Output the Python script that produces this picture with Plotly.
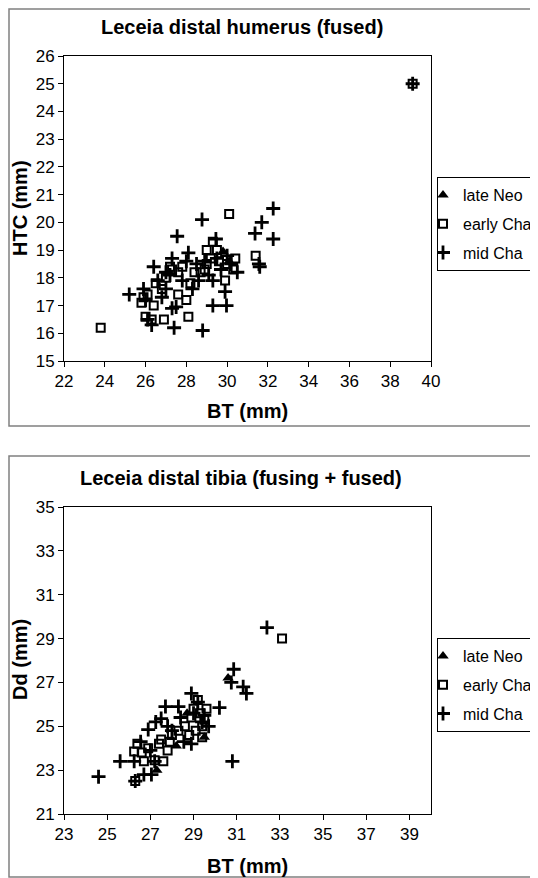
import plotly.graph_objects as go

# page body has an 8px margin, so the figure is drawn 8px in from the window's corner
OFF = 8
W, H = 538 - OFF, 878 - OFF

# ---------- Humerus data (BT, HTC) ----------
hum_late_bt = [29.8, 30.1]
hum_late_htc = [18.95, 18.6]

hum_early_bt = [23.8, 25.8, 25.9, 26.0, 26.3, 26.9, 26.1, 26.5, 26.8, 27.0, 27.3, 27.6, 27.8, 27.6,
                28.0, 28.1, 28.2, 28.4, 28.7, 29.0, 29.0, 29.3, 29.5, 29.6, 29.9, 30.0, 30.3, 30.1,
                31.4, 39.1, 26.4, 27.2, 29.2, 30.4, 28.9]
hum_early_htc = [16.2, 17.1, 17.3, 16.6, 16.5, 16.5, 17.4, 17.8, 17.6, 18.0, 18.3, 18.2, 18.4, 17.4,
                 17.2, 16.6, 17.8, 18.2, 18.2, 18.5, 19.0, 19.3, 19.0, 18.6, 17.9, 18.5, 18.3, 20.3,
                 18.8, 25.0, 17.0, 18.4, 18.7, 18.7, 18.3]

hum_mid_bt = [25.2, 25.9, 26.1, 26.3, 26.4, 26.6, 26.8, 27.0, 27.2, 27.3, 27.4, 27.5, 27.3, 27.55,
              27.8, 28.0, 28.1, 28.3, 28.6, 28.8, 28.77, 28.9, 29.1, 29.3, 29.3, 29.45, 29.7, 29.9,
              29.97, 30.0, 30.2, 30.5, 31.37, 31.56, 31.7, 31.6, 32.26, 32.26, 39.1, 26.0, 27.0,
              28.5, 29.5]
hum_mid_htc = [17.4, 17.6, 16.5, 16.3, 18.4, 17.9, 17.3, 17.6, 18.1, 16.9, 16.2, 16.95, 18.7, 19.5,
               17.9, 18.6, 18.9, 17.6, 17.9, 16.1, 20.1, 18.6, 18.1, 17.9, 17.0, 19.4, 18.3, 17.5,
               17.0, 18.8, 18.5, 18.2, 19.6, 18.5, 20.0, 18.4, 20.5, 19.4, 25.0, 17.2, 18.2,
               18.5, 18.7]

# ---------- Tibia data (BT, Dd) ----------
tib_late_bt = [27.3, 28.2, 28.7, 29.5, 30.6]
tib_late_dd = [23.0, 24.1, 25.6, 24.5, 27.2]

tib_early_bt = [26.3, 26.25, 26.6, 26.7, 27.2, 27.6, 26.4, 26.9, 27.4, 27.8, 27.5, 28.0, 28.3, 28.6,
                28.9, 29.0, 29.2, 29.3, 29.4, 29.5, 29.1, 28.8, 29.6, 29.4, 33.1, 27.9]
tib_early_dd = [22.5, 23.85, 23.8, 23.4, 23.45, 23.4, 24.2, 24.0, 24.2, 23.9, 24.4, 24.6, 24.8, 25.0,
                25.4, 25.8, 26.2, 25.6, 25.0, 25.3, 24.8, 24.6, 25.8, 24.5, 29.0, 24.3]

tib_mid_bt = [24.6, 25.6, 26.25, 26.3, 26.7, 27.05, 27.2, 26.55, 26.9, 27.25, 27.5, 27.7, 27.8, 28.3,
              28.55, 28.9, 28.9, 29.2, 29.4, 29.5, 29.7, 30.2, 30.8, 30.86, 30.75, 31.3, 31.45, 32.4,
              28.0, 29.0, 27.0, 28.4]
tib_mid_dd = [22.7, 23.4, 23.4, 22.5, 22.8, 22.8, 23.4, 24.3, 24.85, 25.2, 25.35, 25.9, 25.0, 25.9,
              24.3, 24.2, 26.5, 26.1, 25.2, 25.5, 25.0, 25.85, 23.4, 27.6, 27.0, 26.8, 26.5, 29.5,
              24.8, 25.6, 23.9, 25.4]

series_names = ["late Neo", "early Cha", "mid Cha"]
hum_x_ticks = list(range(22, 41, 2))
hum_y_ticks = list(range(15, 27, 1))
tib_x_ticks = list(range(23, 40, 2))
tib_y_ticks = list(range(21, 36, 2))

FONT = "Liberation Sans, Arial, Helvetica, sans-serif"


def px_x(p):
    return (p - OFF) / W


def px_y(p):
    return 1 - (p - OFF) / H


marker_styles = [
    dict(symbol="triangle-up", size=10, color="black", line=dict(width=0)),
    dict(symbol="square-open", size=8, color="black", line=dict(width=2, color="black")),
    dict(symbol="cross-thin", size=10, color="black", line=dict(width=2.8, color="black")),
]

fig = go.Figure()

hum = [(hum_late_bt, hum_late_htc), (hum_early_bt, hum_early_htc), (hum_mid_bt, hum_mid_htc)]
tib = [(tib_late_bt, tib_late_dd), (tib_early_bt, tib_early_dd), (tib_mid_bt, tib_mid_dd)]

for i, (xs, ys) in enumerate(hum):
    fig.add_trace(go.Scatter(x=xs, y=ys, mode="markers", name=series_names[i],
                             marker=marker_styles[i], xaxis="x", yaxis="y", legend="legend",
                             legendgroup="h%d" % i))
for i, (xs, ys) in enumerate(tib):
    fig.add_trace(go.Scatter(x=xs, y=ys, mode="markers", name=series_names[i],
                             marker=marker_styles[i], xaxis="x2", yaxis="y2", legend="legend2",
                             legendgroup="t%d" % i))

axis_common = dict(showgrid=False, zeroline=False, showline=True, linecolor="black", linewidth=1,
                   mirror=True, ticks="outside", ticklen=5, tickcolor="black", tickwidth=1,
                   tickfont=dict(size=17, color="black", family=FONT))

legend_common = dict(xanchor="left", yanchor="top", bordercolor="black", borderwidth=1,
                     bgcolor="white", font=dict(size=16, family=FONT, color="black"),
                     itemwidth=30, tracegroupgap=5, indentation=-15)

fig.update_layout(
    width=W, height=H,
    margin=dict(l=0, r=0, t=0, b=0, autoexpand=False),
    paper_bgcolor="white", plot_bgcolor="white",
    font=dict(family=FONT, color="black"),
    xaxis=dict(domain=[px_x(64), px_x(431)], range=[22, 40], tickvals=hum_x_ticks,
               anchor="y", **axis_common),
    yaxis=dict(domain=[px_y(361), px_y(56)], range=[15, 26], tickvals=hum_y_ticks,
               anchor="x", **axis_common),
    xaxis2=dict(domain=[px_x(64), px_x(431)], range=[23, 40], tickvals=tib_x_ticks,
                anchor="y2", **axis_common),
    yaxis2=dict(domain=[px_y(814), px_y(507)], range=[21, 35], tickvals=tib_y_ticks,
                anchor="x2", **axis_common),
    legend=dict(x=px_x(437), y=px_y(177), **legend_common),
    legend2=dict(x=px_x(437), y=px_y(638), **legend_common),
    shapes=[
        dict(type="rect", xref="paper", yref="paper", x0=px_x(9), x1=px_x(545),
             y0=px_y(426), y1=px_y(9), line=dict(color="#808080", width=1.5)),
        dict(type="rect", xref="paper", yref="paper", x0=px_x(9), x1=px_x(545),
             y0=px_y(877), y1=px_y(456), line=dict(color="#808080", width=1.5)),
    ],
    annotations=[
        dict(text="<b>Leceia distal humerus (fused)</b>", x=px_x(242), y=px_y(27), xref="paper", yref="paper",
             showarrow=False, font=dict(size=20), xanchor="center", yanchor="middle"),
        dict(text="<b>Leceia distal tibia (fusing + fused)</b>", x=px_x(241), y=px_y(478), xref="paper", yref="paper",
             showarrow=False, font=dict(size=20), xanchor="center", yanchor="middle"),
        dict(text="<b>BT (mm)</b>", x=px_x(247), y=px_y(411), xref="paper", yref="paper",
             showarrow=False, font=dict(size=20), xanchor="center", yanchor="middle"),
        dict(text="<b>BT (mm)</b>", x=px_x(247), y=px_y(866), xref="paper", yref="paper",
             showarrow=False, font=dict(size=20), xanchor="center", yanchor="middle"),
        dict(text="<b>HTC (mm)</b>", x=px_x(20), y=px_y(208), xref="paper", yref="paper", textangle=-90,
             showarrow=False, font=dict(size=20), xanchor="center", yanchor="middle"),
        dict(text="<b>Dd (mm)</b>", x=px_x(20), y=px_y(660), xref="paper", yref="paper", textangle=-90,
             showarrow=False, font=dict(size=20), xanchor="center", yanchor="middle"),
    ],
)

fig.write_html("out.html")
